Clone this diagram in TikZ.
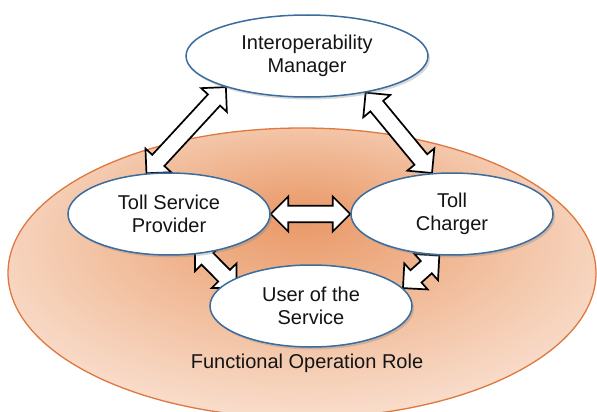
\documentclass[tikz,border=0pt]{standalone}
\usepackage{fontspec}
\setmainfont{Liberation Sans}
\usetikzlibrary{shapes.geometric,shapes.arrows,shadows,calc}

\definecolor{partyblue}{RGB}{58,108,158}
\definecolor{roleline}{RGB}{222,120,62}
\definecolor{roleinner}{RGB}{233,152,102}
\definecolor{rolemid}{RGB}{244,200,172}
\definecolor{roleouter}{RGB}{254,246,241}
\pgfdeclareradialshading{roleglow}{\pgfpoint{0bp}{10bp}}{color(0bp)=(roleinner); color(20bp)=(rolemid); color(40bp)=(roleouter); color(50bp)=(roleouter)}

\pgfdeclarelayer{back}
\pgfdeclarelayer{links}
\pgfsetlayers{back,links,main}

\tikzset{
  party/.style={ellipse, draw=partyblue, line width=1.5pt, fill=white,
    minimum width=202pt, minimum height=82pt, inner sep=0pt, align=center,
    font=\fontsize{20}{23}\selectfont, text=black!92,
    drop shadow={shadow xshift=2pt, shadow yshift=-2.5pt, opacity=.3}},
  dblarr/.style={double arrow, draw=black, fill=white, line width=1.7pt,
    minimum width=35pt, inner sep=5.5pt, double arrow tip angle=90},
}

\newcommand{\blockarrow}[4][0pt]{%
  \path let \p1=($(#3)!-#1!(#4)$), \p2=($(#4)!-#1!(#3)$),
    \n1={atan2(\y2-\y1,\x2-\x1)}, \n2={veclen(\x2-\x1,\y2-\y1)} in
    node[dblarr, minimum height=\n2, rotate=\n1] (#2) at ($(\p1)!.5!(\p2)$) {};}

\begin{document}
\begin{tikzpicture}[x=1pt,y=-1pt]
\useasboundingbox (0,0) rectangle (597,412);

\begin{pgfonlayer}{back}
\draw[roleline, line width=1.3pt, shading=roleglow] (302,273) ellipse [x radius=294, y radius=145];
\end{pgfonlayer}

\node[party, minimum width=242pt] (im) at (307,56) {Interoperability\\Manager};
\node[party] (tsp) at (169,214) {Toll Service\\Provider};
\node[party] (tc) at (452,214) {Toll\\Charger};
\node[party] (usr) at (311,306) {User of the\\Service};
\node[font=\fontsize{20}{23}\selectfont, text=black!92] (role) at (307,363) {Functional Operation Role};

\begin{pgfonlayer}{links}
\blockarrow{imtsp}{im.-159}{tsp.119}
\blockarrow{imtc}{im.-32}{tc.116}
\blockarrow{tsptc}{tsp.east}{tc.west}
\blockarrow[10pt]{tspusr}{tsp.-50}{usr.163}
\blockarrow{tcusr}{tc.-107}{usr.11}
\end{pgfonlayer}

\end{tikzpicture}
\end{document}
